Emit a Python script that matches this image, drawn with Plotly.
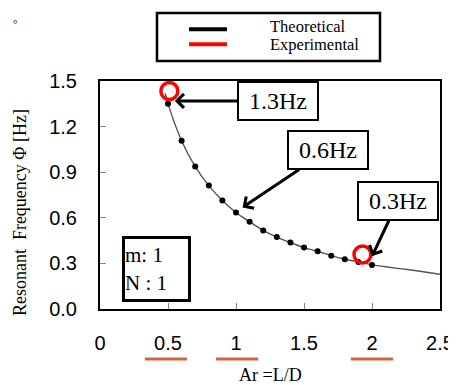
import plotly.graph_objects as go

# ---- data ----
line_x = [0.48, 0.5, 0.6, 0.7, 0.8, 0.9, 1.0, 1.1, 1.2, 1.3, 1.4, 1.5, 1.6, 1.7, 1.8, 1.9, 2.0, 2.1, 2.2, 2.3, 2.4, 2.5]
line_y = [1.42, 1.351, 1.107, 0.937, 0.812, 0.714, 0.635, 0.574, 0.517, 0.473, 0.437, 0.404, 0.380, 0.351, 0.327, 0.310, 0.290, 0.278, 0.266, 0.255, 0.242, 0.229]
dot_x = [0.5, 0.6, 0.7, 0.8, 0.9, 1.0, 1.1, 1.2, 1.3, 1.4, 1.5, 1.6, 1.7, 1.8, 1.9, 2.0]
dot_y = [1.351, 1.107, 0.937, 0.812, 0.714, 0.635, 0.574, 0.517, 0.473, 0.437, 0.404, 0.380, 0.351, 0.327, 0.310, 0.290]
exp_x = [0.51, 1.93]
exp_y = [1.434, 0.358]

x_tickvals = [0, 0.5, 1, 1.5, 2, 2.5]
x_ticktext = ["0", "0.5", "1", "1.5", "2", "2.5"]
y_tickvals = [0.0, 0.3, 0.6, 0.9, 1.2, 1.5]
y_ticktext = ["0.0", "0.3", "0.6", "0.9", "1.2", "1.5"]

callout_labels = ["1.3Hz", "0.6Hz", "0.3Hz"]
callout_x = [0.55, 1.048, 2.0]
callout_y = [1.369, 0.668, 0.347]
callout_ax = [103, 85, 26]
callout_ay = [0, -57, -55]

underlined_ticks = [0.485, 1.008, 2.0]

SERIF = "Liberation Serif, Times New Roman, serif"
SANS = "Liberation Sans, Arial, sans-serif"

# the page body has an 8px default margin; the figure is sized to fill the rest of the window
PAGE_OFFSET = 8

fig = go.Figure()
fig.add_trace(go.Scatter(x=line_x, y=line_y, mode="lines", line=dict(color="#555555", width=1.4, shape="spline"),
                         name="Theoretical", showlegend=False, hoverinfo="skip"))
fig.add_trace(go.Scatter(x=dot_x, y=dot_y, mode="markers", marker=dict(color="black", size=6),
                         name="Theoretical", showlegend=False))
fig.add_trace(go.Scatter(x=exp_x, y=exp_y, mode="markers", cliponaxis=False,
                         marker=dict(symbol="circle-open", color="#ff0000", size=17, line=dict(width=3.5, color="#ff0000")),
                         name="Experimental", showlegend=False))

annotations = []
for lab, x, y, ax, ay in zip(callout_labels, callout_x, callout_y, callout_ax, callout_ay):
    annotations.append(dict(x=x, y=y, xref="x", yref="y", ax=ax, ay=ay, text=lab,
                            showarrow=True, arrowhead=4, arrowsize=0.9, arrowwidth=3, arrowcolor="black",
                            font=dict(family=SERIF, size=24, color="black"),
                            bgcolor="white", bordercolor="black", borderwidth=2, borderpad=0,
                            width=78, height=36))

# m, N box
annotations.append(dict(x=0.166, y=0.1754, xref="paper", yref="paper", showarrow=False,
                        text="m: 1<br>N : 1", align="left", xanchor="center", yanchor="middle",
                        font=dict(family=SERIF, size=21, color="black"),
                        bgcolor="white", bordercolor="black", borderwidth=3, borderpad=0,
                        width=63, height=60))

# legend texts
annotations.append(dict(x=0.494, y=1.237, xref="paper", yref="paper", showarrow=False, text="Theoretical",
                        xanchor="left", yanchor="middle", font=dict(family=SERIF, size=16.5, color="black")))
annotations.append(dict(x=0.494, y=1.158, xref="paper", yref="paper", showarrow=False, text="Experimental",
                        xanchor="left", yanchor="middle", font=dict(family=SERIF, size=16.5, color="black")))
# axis titles
annotations.append(dict(x=0.5, y=-0.29, xref="paper", yref="paper", showarrow=False, text="Ar =L/D",
                        xanchor="center", yanchor="middle", font=dict(family=SERIF, size=18, color="black")))
annotations.append(dict(x=-0.235, y=0.421, xref="paper", yref="paper", showarrow=False,
                        text="Resonant  Frequency \u03a6 [Hz]", textangle=-90,
                        xanchor="center", yanchor="middle", font=dict(family=SERIF, size=18, color="black")))
annotations.append(dict(x=-0.262, y=1.318, xref="paper", yref="paper", showarrow=False, text="\u3002",
                        xanchor="left", yanchor="top", font=dict(family="Noto Sans CJK JP", size=11, color="black")))

shapes = [
    dict(type="rect", xref="paper", yref="paper", x0=0.1676, x1=0.8235, y0=1.0877, y1=1.298,
         line=dict(color="black", width=2.5), fillcolor="white"),
    dict(type="line", xref="paper", yref="paper", x0=0.2618, x1=0.3735, y0=1.2268, y1=1.2268,
         line=dict(color="black", width=4)),
    dict(type="line", xref="paper", yref="paper", x0=0.2618, x1=0.3735, y0=1.161, y1=1.161,
         line=dict(color="#ff0000", width=4)),
]
for t in underlined_ticks:
    shapes.append(dict(type="line", xref="x", yref="paper", x0=t - 0.155, x1=t + 0.155, y0=-0.219, y1=-0.219,
                       line=dict(color="#D0643F", width=3)))

fig.update_layout(
    width=456 - PAGE_OFFSET, height=385 - PAGE_OFFSET,
    margin=dict(l=100 - PAGE_OFFSET, r=16, t=81 - PAGE_OFFSET, b=76, pad=0),
    paper_bgcolor="white", plot_bgcolor="white",
    showlegend=False,
    annotations=annotations,
    shapes=shapes,
    xaxis=dict(range=[0, 2.5], tickvals=x_tickvals, ticktext=x_ticktext, ticks="inside", ticklen=6,
               tickcolor="#888888", tickwidth=1, showgrid=False, zeroline=False, automargin=False,
               showline=True, mirror=True, linecolor="black", linewidth=2,
               ticklabelstandoff=15, tickfont=dict(family=SANS, size=20, color="black")),
    yaxis=dict(range=[0, 1.5], tickvals=y_tickvals, ticktext=y_ticktext, ticks="inside", ticklen=6,
               tickcolor="#888888", tickwidth=1, showgrid=False, zeroline=False, automargin=False,
               showline=True, mirror=True, linecolor="black", linewidth=2,
               ticklabelstandoff=17, tickfont=dict(family=SANS, size=20, color="black")),
)

fig.write_html("out.html")
